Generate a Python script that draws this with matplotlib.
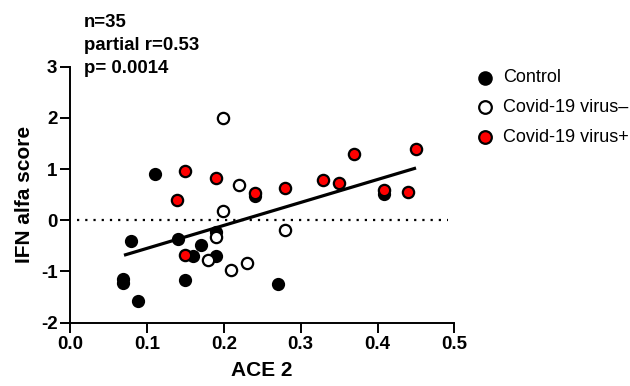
import numpy as np
import matplotlib
matplotlib.use("Agg")
import matplotlib.pyplot as plt

plt.rcParams['font.family'] = ['Liberation Sans', 'DejaVu Sans']
plt.rcParams['axes.unicode_minus'] = False

# Control
ctrl_x = [0.110, 0.069, 0.069, 0.089, 0.079, 0.140, 0.150, 0.160, 0.170, 0.190, 0.190, 0.240, 0.270, 0.409]
ctrl_y = [0.91, -1.14, -1.23, -1.57, -0.41, -0.36, -1.16, -0.70, -0.48, -0.24, -0.70, 0.48, -1.25, 0.51]

# Covid-19 virus-
neg_x = [0.199, 0.220, 0.199, 0.190, 0.180, 0.210, 0.230, 0.280]
neg_y = [2.00, 0.69, 0.18, -0.33, -0.78, -0.98, -0.83, -0.19]

# Covid-19 virus+
pos_x = [0.150, 0.139, 0.190, 0.240, 0.280, 0.329, 0.350, 0.369, 0.409, 0.440, 0.450, 0.150]
pos_y = [0.97, 0.40, 0.82, 0.54, 0.63, 0.78, 0.72, 1.29, 0.59, 0.56, 1.40, -0.68]

# regression line end points
fit_x = [0.0703, 0.450]
fit_y = [-0.685, 1.02]

stats_lines = ["n=35", "partial r=0.53", "p= 0.0014"]

fig = plt.figure(figsize=(6.3, 3.86), dpi=100)
ax = fig.add_axes([0.111, 0.1645, 0.6104, 0.6627])

ax.plot([0.0087, 0.492], [0, 0], color='black', lw=1.6, linestyle=(0, (1, 2.7)), zorder=1)
ax.plot(fit_x, fit_y, color='black', lw=2.3, solid_capstyle='butt', zorder=2)

ms = 66
ax.scatter(ctrl_x, ctrl_y, s=ms, c='black', edgecolors='black', linewidths=1.4, zorder=3, label='Control')
ax.scatter(neg_x, neg_y, s=ms, c='white', edgecolors='black', linewidths=1.6, zorder=4, label='Covid-19 virus\u2013')
ax.scatter(pos_x, pos_y, s=ms, c='red', edgecolors='black', linewidths=1.6, zorder=5, label='Covid-19 virus+')

ax.set_xlim(0, 0.5)
ax.set_ylim(-2, 3)
ax.set_xticks([0.0, 0.1, 0.2, 0.3, 0.4, 0.5])
ax.set_xticklabels(['0.0', '0.1', '0.2', '0.3', '0.4', '0.5'])
ax.set_yticks([-2, -1, 0, 1, 2, 3])
for s in ['top', 'right']:
    ax.spines[s].set_visible(False)
for s in ['left', 'bottom']:
    ax.spines[s].set_linewidth(1.4)
ax.tick_params(direction='out', length=7.5, width=1.4, labelsize=13.5)
ax.tick_params(axis='x', pad=2)
ax.tick_params(axis='y', pad=1.5)
for lab in ax.get_xticklabels() + ax.get_yticklabels():
    lab.set_fontweight('bold')
ax.set_xlabel('ACE 2', fontsize=15, fontweight='bold', labelpad=6)
ax.set_ylabel('IFN alfa score', fontsize=15, fontweight='bold', labelpad=5)

for i, t in enumerate(stats_lines):
    fig.text(84 / 630, 1 - (26.7 + 23.3 * i) / 386, t, fontsize=13.4, fontweight='bold',
             ha='left', va='baseline')

ax.legend(loc='upper left', bbox_to_anchor=(0.750, 0.820), bbox_transform=fig.transFigure,
          frameon=False, fontsize=13, handlelength=1.4, handletextpad=0.3, labelspacing=0.7,
          borderpad=0, borderaxespad=0, markerscale=1.12)

fig.savefig('out.png', dpi=100)
